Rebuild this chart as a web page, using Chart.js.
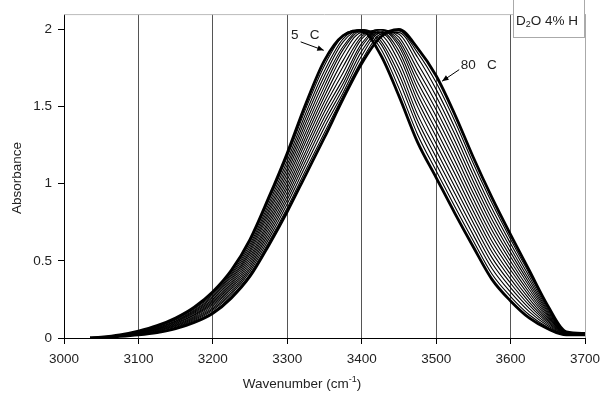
<!DOCTYPE html>
<html>
<head>
<meta charset="utf-8">
<script src="https://cdn.jsdelivr.net/npm/chart.js@4"></script>
<style>
  body { margin: 0; background: #fff; }
  #wrap { width: 612px; height: 402px; }
</style>
</head>
<body>
<div id="wrap"><canvas id="irChart" width="612" height="402"></canvas></div>
<script>
// wavenumber grid (cm-1)
const wavenumbers = [3035, 3050, 3075, 3100, 3125, 3150, 3175, 3200, 3225, 3250, 3275, 3300, 3325, 3350,
    3375, 3400, 3425, 3450, 3475, 3500, 3525, 3550, 3575, 3600, 3625, 3650, 3675, 3700];

// absorbance, one spectrum per temperature (5 C .. 80 C)
const abs05 = [0, .005, .02, .045, .08, .13, .20, .30, .44, .64, .91, 1.20, 1.52, 1.80, 1.96, 1.99, 1.84, 1.57, 1.27, 1.04, .81, .59, .38, .24, .13, .06, .02, .02];
const abs10 = [0, .005, .019, .043, .077, .125, .193, .291, .428, .624, .889, 1.175, 1.489, 1.767, 1.96, 2.00, 1.88, 1.62, 1.32, 1.084, .853, .629, .415, .269, .151, .07, .021, .02];
const abs15 = [0, .005, .019, .042, .074, .121, .187, .281, .416, .608, .869, 1.149, 1.459, 1.733, 1.94, 2.00, 1.91, 1.67, 1.37, 1.128, .895, .667, .451, .297, .171, .08, .023, .02];
const abs20 = [0, .005, .018, .040, .071, .116, .180, .272, .404, .592, .848, 1.124, 1.428, 1.700, 1.92, 2.00, 1.93, 1.71, 1.41, 1.172, .938, .706, .486, .326, .192, .09, .024, .02];
const abs25 = [0, .004, .017, .038, .068, .111, .173, .263, .392, .576, .827, 1.099, 1.397, 1.667, 1.89, 2.00, 1.95, 1.75, 1.45, 1.216, .981, .745, .521, .355, .213, .10, .025, .02];
const abs30 = [0, .004, .017, .037, .065, .107, .167, .253, .380, .560, .807, 1.073, 1.367, 1.633, 1.87, 1.99, 1.97, 1.79, 1.50, 1.260, 1.023, .783, .557, .383, .233, .11, .027, .02];
const abs35 = [0, .004, .016, .035, .062, .102, .160, .244, .368, .544, .786, 1.048, 1.336, 1.600, 1.84, 1.98, 1.98, 1.83, 1.54, 1.304, 1.066, .822, .592, .412, .254, .12, .028, .02];
const abs40 = [0, .004, .015, .033, .059, .097, .153, .235, .356, .528, .765, 1.023, 1.305, 1.567, 1.80, 1.97, 1.99, 1.86, 1.58, 1.348, 1.109, .861, .627, .441, .275, .13, .029, .02];
const abs45 = [0, .004, .015, .032, .056, .093, .147, .225, .344, .512, .745, .997, 1.275, 1.533, 1.76, 1.955, 2.00, 1.89, 1.62, 1.392, 1.151, .899, .663, .469, .295, .14, .031, .03];
const abs50 = [0, .004, .014, .030, .053, .088, .140, .216, .332, .496, .724, .972, 1.244, 1.500, 1.72, 1.94, 2.00, 1.91, 1.66, 1.436, 1.194, .938, .698, .498, .316, .15, .032, .03];
const abs55 = [0, .004, .013, .028, .050, .083, .133, .207, .320, .480, .703, .947, 1.213, 1.467, 1.68, 1.91, 2.00, 1.93, 1.70, 1.480, 1.237, .977, .733, .527, .337, .16, .033, .03];
const abs60 = [0, .003, .013, .027, .047, .079, .127, .197, .308, .464, .683, .921, 1.183, 1.433, 1.65, 1.89, 2.00, 1.95, 1.74, 1.524, 1.279, 1.015, .769, .555, .357, .17, .035, .03];
const abs65 = [0, .003, .012, .025, .044, .074, .120, .188, .296, .448, .662, .896, 1.152, 1.400, 1.62, 1.86, 1.99, 1.97, 1.78, 1.568, 1.322, 1.054, .804, .584, .378, .18, .036, .03];
const abs70 = [0, .003, .011, .023, .041, .069, .113, .179, .284, .432, .641, .871, 1.121, 1.367, 1.59, 1.83, 1.98, 1.98, 1.82, 1.612, 1.365, 1.093, .839, .613, .399, .19, .037, .03];
const abs75 = [0, .003, .011, .022, .038, .065, .107, .169, .272, .416, .621, .845, 1.091, 1.333, 1.57, 1.80, 1.97, 1.99, 1.85, 1.656, 1.407, 1.131, .875, .641, .419, .20, .039, .03];
const abs80 = [0, .003, .010, .020, .035, .060, .100, .160, .260, .400, .600, .820, 1.060, 1.300, 1.55, 1.78, 1.95, 2.00, 1.88, 1.700, 1.450, 1.170, .910, .670, .440, .21, .040, .03];

const temperatures = [5, 10, 15, 20, 25, 30, 35, 40, 45, 50, 55, 60, 65, 70, 75, 80];
const spectra = [abs05, abs10, abs15, abs20, abs25, abs30, abs35, abs40, abs45, abs50, abs55, abs60, abs65, abs70, abs75, abs80];

const xTicks = [3000, 3100, 3200, 3300, 3400, 3500, 3600, 3700];
const yTicks = [0, 0.5, 1, 1.5, 2];

const FONT = "'Liberation Sans', Arial, sans-serif";
const INK = '#222';

const datasets = spectra.map((arr, i) => {
    const edge = i === 0 || i === spectra.length - 1;
    return {
        label: temperatures[i] + ' C',
        data: wavenumbers.map((w, j) => ({x: w, y: arr[j]})),
        borderColor: '#000',
        borderWidth: edge ? 2.8 : 1.1,
        pointRadius: 0,
        cubicInterpolationMode: 'monotone',
        fill: false,
        order: edge ? 0 : 1
    };
});

// extra drawing: frame, axis titles, inset label and arrows
const decorations = {
    id: 'decorations',
    afterDraw(chart) {
        const c = chart.ctx;
        const a = chart.chartArea;
        const xs = chart.scales.x, ys = chart.scales.y;
        c.save();

        // top frame line
        c.strokeStyle = '#bbb';
        c.lineWidth = 1;
        c.beginPath();
        c.moveTo(a.left, a.top + 0.5);
        c.lineTo(a.right, a.top + 0.5);
        c.stroke();

        c.fillStyle = INK;
        c.font = '13.5px ' + FONT;
        c.textAlign = 'center';
        c.textBaseline = 'middle';

        // y title
        c.save();
        c.translate(17, 178);
        c.rotate(-Math.PI / 2);
        c.fillText('Absorbance', 0, 0);
        c.restore();

        // x title with superscript
        const main = 'Wavenumber (cm';
        const sup = '-1';
        const tail = ')';
        c.textAlign = 'left';
        const wMain = c.measureText(main).width;
        c.font = '9px ' + FONT;
        const wSup = c.measureText(sup).width;
        c.font = '13.5px ' + FONT;
        const wTail = c.measureText(tail).width;
        let tx = 302 - (wMain + wSup + wTail) / 2;
        const ty = 384;
        c.fillText(main, tx, ty);
        tx += wMain;
        c.font = '9px ' + FONT;
        c.fillText(sup, tx, ty - 4);
        tx += wSup;
        c.font = '13.5px ' + FONT;
        c.fillText(tail, tx, ty);

        // inset label box
        c.fillStyle = '#fff';
        c.fillRect(513, -1, 72, 39);
        c.strokeStyle = '#aaa';
        c.strokeRect(513.5, -1, 71, 38.5);
        c.fillStyle = INK;
        let lx = 516;
        const ly = 21;
        c.font = '13.5px ' + FONT;
        c.fillText('D', lx, ly);
        lx += c.measureText('D').width;
        c.font = '9px ' + FONT;
        c.fillText('2', lx, ly + 4);
        lx += c.measureText('2').width;
        c.font = '13.5px ' + FONT;
        c.fillText('O 4% H', lx, ly);

        // temperature labels with arrows
        const arrow = (x1, y1, x2, y2) => {
            const px1 = xs.getPixelForValue(x1), py1 = ys.getPixelForValue(y1);
            const px2 = xs.getPixelForValue(x2), py2 = ys.getPixelForValue(y2);
            c.strokeStyle = '#000';
            c.lineWidth = 1;
            c.beginPath();
            c.moveTo(px1, py1);
            c.lineTo(px2, py2);
            c.stroke();
            const ang = Math.atan2(py2 - py1, px2 - px1);
            c.fillStyle = '#000';
            c.beginPath();
            c.moveTo(px2, py2);
            c.lineTo(px2 - 7 * Math.cos(ang - 0.4), py2 - 7 * Math.sin(ang - 0.4));
            c.lineTo(px2 - 7 * Math.cos(ang + 0.4), py2 - 7 * Math.sin(ang + 0.4));
            c.closePath();
            c.fill();
        };
        c.fillStyle = INK;
        c.font = '13.5px ' + FONT;
        c.fillText('5   C', xs.getPixelForValue(3305), ys.getPixelForValue(1.96));
        c.fillText('80   C', xs.getPixelForValue(3533), ys.getPixelForValue(1.77));
        arrow(3318, 1.92, 3349, 1.865);
        arrow(3531, 1.74, 3508, 1.665);

        c.restore();
    }
};

new Chart(document.getElementById('irChart'), {
    type: 'line',
    data: { datasets: datasets },
    options: {
        responsive: false,
        animation: false,
        layout: { padding: { left: 0, right: 27, top: 10, bottom: 0 } },
        plugins: {
            legend: { display: false },
            tooltip: { enabled: false }
        },
        scales: {
            x: {
                type: 'linear',
                min: 3000,
                max: 3700,
                afterBuildTicks: s => { s.ticks = xTicks.map(v => ({value: v})); },
                afterFit: s => { s.height = 64; },
                ticks: {
                    color: INK,
                    font: { family: FONT, size: 13.5 },
                    padding: 7,
                    maxRotation: 0,
                    callback: v => String(v)
                },
                grid: {
                    color: ctx => ctx.tick && ctx.tick.value === 3700 ? '#aaa' : '#555',
                    tickColor: '#000',
                    tickLength: 6,
                    lineWidth: 1
                },
                border: { color: '#000', width: 1 }
            },
            y: {
                min: 0,
                max: 2.1,
                afterBuildTicks: s => { s.ticks = yTicks.map(v => ({value: v})); },
                afterFit: s => { s.width = 64; },
                ticks: {
                    color: INK,
                    font: { family: FONT, size: 13.5 },
                    padding: 6,
                    callback: v => String(v)
                },
                grid: {
                    drawOnChartArea: false,
                    tickColor: '#000',
                    tickLength: 6
                },
                border: { color: '#000', width: 1 }
            }
        }
    },
    plugins: [decorations]
});
</script>
</body>
</html>
